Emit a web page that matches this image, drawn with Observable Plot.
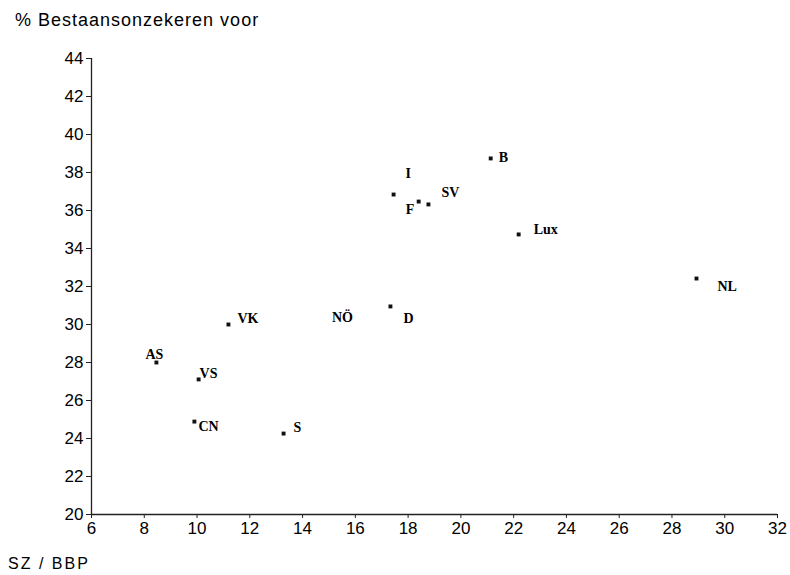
<!DOCTYPE html>
<html><head><meta charset="utf-8">
<script src="https://cdn.jsdelivr.net/npm/d3@7"></script>
<script src="https://cdn.jsdelivr.net/npm/@observablehq/plot@0.6"></script>
<style>
body{margin:0;background:#fff;}
#wrap{position:relative;width:790px;height:575px;}
#title{position:absolute;left:15px;top:11px;font-family:"Liberation Sans",Arial,sans-serif;font-size:18px;line-height:1;letter-spacing:1px;color:#000;white-space:nowrap;}
#caption{position:absolute;left:8px;top:556px;font-family:"Liberation Sans",Arial,sans-serif;font-size:16px;line-height:1;letter-spacing:2px;color:#000;white-space:nowrap;}
</style></head>
<body>
<div id="wrap">
  <div id="chart"></div>
  <div id="title">% Bestaansonzekeren voor</div>
  <div id="caption">SZ / BBP</div>
</div>
<script>
// Data
const countries = ["B", "I", "F", "SV", "Lux", "NL", "D", "NÖ", "VK", "AS", "VS", "CN", "S"];
const szBbp     = [21.13, 17.45, 18.40, 18.77, 22.19, 28.93, 17.33, 15.51, 11.19, 8.46, 10.06, 9.90, 13.28];
const pctOnzeker= [38.74, 36.84, 36.47, 36.32, 34.74, 32.42, 30.95, 30.37, 30.00, 28.00, 27.11, 24.89, 24.26];
const xTicks = [6, 8, 10, 12, 14, 16, 18, 20, 22, 24, 26, 28, 30, 32];
const yTicks = [20, 22, 24, 26, 28, 30, 32, 34, 36, 38, 40, 42, 44];

// Layout: label offsets (px) relative to each marker
const labelOffset = {
  "B": [8, -1], "I": [12, -21], "F": [-13, 8], "SV": [13, -12], "Lux": [15, -5],
  "NL": [21, 8], "D": [13, 12], "NÖ": [0, 0], "VK": [9, -6], "AS": [-11, -8],
  "VS": [1, -6], "CN": [4, 5], "S": [10, -6]
};
const noMarker = new Set(["NÖ"]);

const data = countries.map((c, i) => ({name: c, x: szBbp[i], y: pctOnzeker[i]}));

const labelMarks = data.map(d => Plot.text([d], {
  x: "x", y: "y", text: "name",
  dx: labelOffset[d.name][0], dy: labelOffset[d.name][1],
  textAnchor: noMarker.has(d.name) ? "middle" : "start",
  fontFamily: "Liberation Serif, Times New Roman, serif",
  fontSize: 14, fontWeight: "bold", fill: "#000"
}));

const chart = Plot.plot({
  width: 790, height: 575,
  marginLeft: 91, marginRight: 13, marginTop: 58, marginBottom: 61,
  style: {fontFamily: "Liberation Sans, Arial, sans-serif", fontSize: "17px", color: "#000", background: "#fff"},
  x: {domain: [6, 32]},
  y: {domain: [20, 44]},
  marks: [
    Plot.axisX({ticks: xTicks, tickFormat: d => String(d), tickSize: 4, tickPadding: 3, label: null, fontSize: 17, stroke: "#222"}),
    Plot.axisY({ticks: yTicks, tickFormat: d => String(d), tickSize: 5, tickPadding: 3, label: null, fontSize: 17, stroke: "#222"}),
    Plot.ruleX([6], {y1: 20, y2: 44, stroke: "#222", strokeWidth: 1.3}),
    Plot.ruleY([20], {x1: 6, x2: 32, stroke: "#222", strokeWidth: 1.3}),
    Plot.dot(data.filter(d => !noMarker.has(d.name)), {x: "x", y: "y", symbol: "square", r: 2.2, fill: "#111", stroke: "none"}),
    ...labelMarks
  ]
});
document.getElementById("chart").appendChild(chart);
</script>
</body></html>
